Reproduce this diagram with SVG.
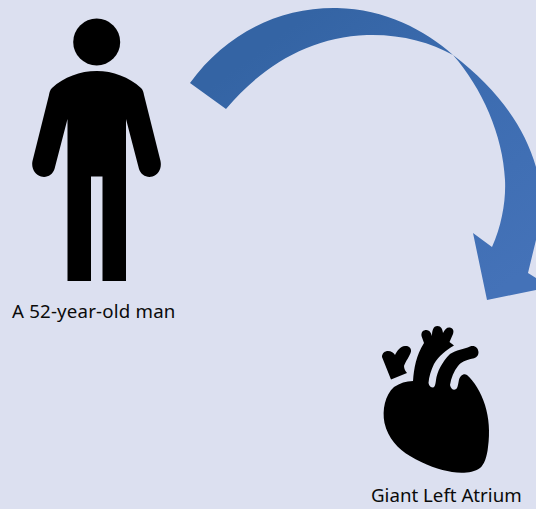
<svg xmlns="http://www.w3.org/2000/svg" width="536" height="509" viewBox="0 0 536 509">
<style>
.bg{fill:#dce0f0}
.ink{fill:#000}
.lbl{font-family:"Noto Sans","Open Sans",sans-serif;font-size:18.7px;fill:#0a0a0a}
</style>
<defs>
<linearGradient id="arrowFill" gradientUnits="userSpaceOnUse" x1="300" y1="20" x2="500" y2="290">
<stop offset="0" stop-color="#3464a4"/>
<stop offset="0.45" stop-color="#3c6cb0"/>
<stop offset="1" stop-color="#4472b8"/>
</linearGradient>
</defs>
<rect class="bg" width="536" height="509"/>
<g id="connectors">
<path fill="url(#arrowFill)" d="M190 83C226 33 280 7 337 8C385 9 425 30 453 55C496 88 524 125 536 167C544 195 543 218 536 240L528 273L550 287L487 300L473 233L492 247C502 225 506 200 505 180C503 135 482 88 453 55C430 42 400 34 367 35C310 37 262 66 226 109Z"/>
</g>
<g id="man">
<circle class="ink" cx="96.7" cy="42" r="23.5"/>
<path class="ink" d="M96.7 71C80 71 64 77 52 88C50 90 49.500 92 49 95L32.500 161C31 168 35 175 41 176.500C47 178 52.500 175 54.500 169L67.500 119V281H91V176.500H102.500V281H126V119L139 169C141 175 146.500 178 152.500 176.500C158.500 175 162 168 160.500 161L144 95C143.500 92 143 90 141 88C129 77 113 71 96.700 71Z"/>
<text class="lbl" x="12" y="318" letter-spacing="0.18">A 52-year-old man</text>
</g>
<g id="heart">
<path class="ink" d="M382 357C382 353 385 351 388 351C391 351 394 353 395 355C397 351 400 346.500 405 346C409 345.500 411.500 348.500 411 351.500C410 356 405 362 404 366C404 369 405.500 371 407 373L391 379.500Z"/>
<path class="ink" d="M413 381C414 368 416 356 424 343L421.500 336C421 332 423 330 426.500 330C429 330 431 332 432 336C432 331 433 326 437.500 326C441 326 442.500 329 443 333C445 329 447 327 450 327.500C453.500 328.500 454 331 453 334L449.500 342L454 345.500C446 350 439 356 434 364C431 370 429 377 428.500 383C429 386 431 387.500 433 387.500C435 387 435.500 384 436 380C437 372 442 362 450 354C456 350 464 349 470 346.500C475 345 478 348 478.500 352C478.500 356 476 358 473 358.500C466 360 461 362 458 366C454 371 451 378 450 385C451 390 455 391 457 388C459 384 458 379 461 376C463 374 465 373.500 467 375C474 381 481 392 485 405C489 418 490 432 488 447C487 457 484 465 480 468C473 473 462 473.500 452 472C440 470 425 465 410 456C398 449 388 438 384.500 423C382 410 385 395 394 387C400 383 406 381 413 381Z"/>
<text class="lbl" x="371" y="502">Giant Left Atrium</text>
</g>
</svg>
